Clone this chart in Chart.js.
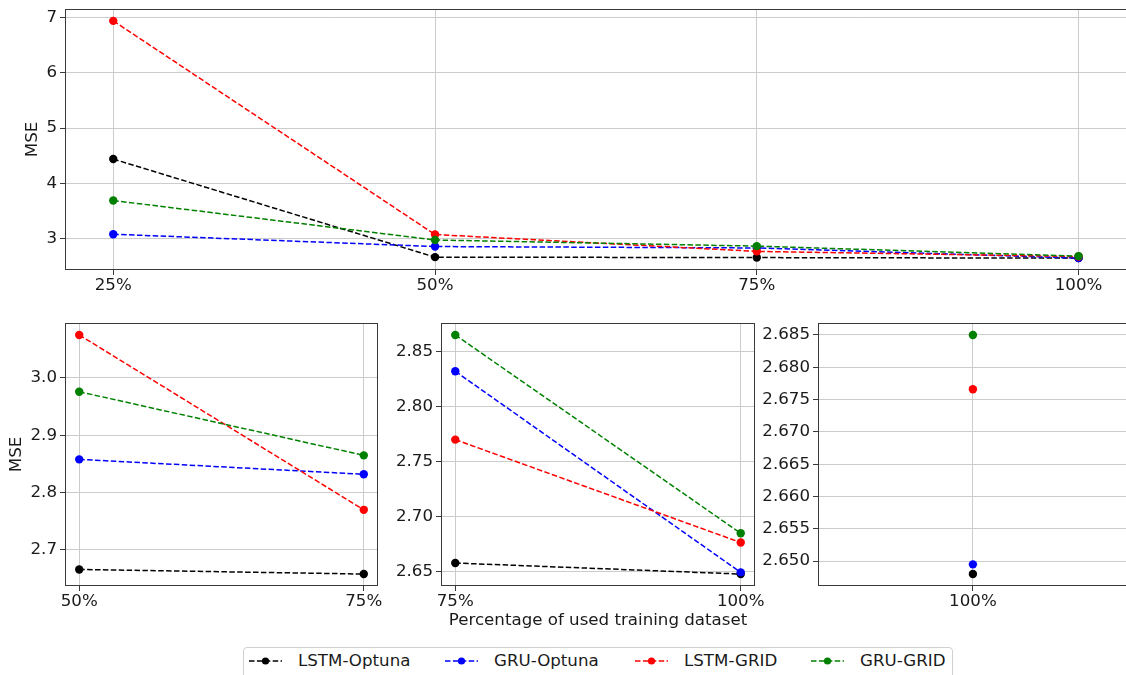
<!DOCTYPE html>
<html><head><meta charset="utf-8">
<script src="https://cdn.jsdelivr.net/npm/chart.js@4.4.0/dist/chart.umd.min.js"></script>
<style>
html,body{margin:0;padding:0;background:#fff;width:1126px;height:675px;overflow:hidden;position:relative;font-family:"DejaVu Sans",sans-serif;}
canvas{position:absolute;}
#legend{position:absolute;left:243px;top:647px;width:710px;height:36px;border:1px solid #d0d0d0;border-radius:4px;background:#fff;box-sizing:border-box;}
.li{position:absolute;top:0;height:26px;line-height:26px;font-size:16.67px;color:#1a1a1a;white-space:nowrap;}
.li svg{position:absolute;top:7px;left:0;}
.li span{position:absolute;left:49px;top:0;}
</style></head><body>
<canvas id="c0"></canvas>
<canvas id="c1"></canvas>
<canvas id="c2"></canvas>
<canvas id="c3"></canvas>
<div id="legend"></div>
<script>
// ---- data ----
const categories = ['25%', '50%', '75%', '100%'];
const seriesNames = ['LSTM-Optuna', 'GRU-Optuna', 'LSTM-GRID', 'GRU-GRID'];
const seriesColors = ['#000000', '#0000ff', '#ff0000', '#008000'];
const lstmOptuna = [4.44, 2.666, 2.658, 2.648];
const gruOptuna  = [3.08, 2.858, 2.832, 2.6495];
const lstmGrid   = [6.94, 3.075, 2.770, 2.6766];
const gruGrid    = [3.69, 2.976, 2.865, 2.685];
const topYTicks   = [3, 4, 5, 6, 7];
const leftYTicks  = [2.7, 2.8, 2.9, 3.0];
const midYTicks   = [2.65, 2.70, 2.75, 2.80, 2.85];
const rightYTicks = [2.650, 2.655, 2.660, 2.665, 2.670, 2.675, 2.680, 2.685];
const yLabel = 'MSE';
const xLabel = 'Percentage of used training dataset';

const allSeries = [lstmOptuna, gruOptuna, lstmGrid, gruGrid];

const FONT = {family: '"DejaVu Sans", sans-serif', size: 16.67};
const TEXT = '#1a1a1a';
const GRID = '#cccccc';

const framePlugin = {
  id: 'frame',
  afterDatasetsDraw(chart) {
    const a = chart.chartArea, ctx = chart.ctx;
    ctx.save();
    ctx.strokeStyle = '#3a3a3a';
    ctx.lineWidth = 1;
    ctx.strokeRect(Math.round(a.left) + 0.5, Math.round(a.top) + 0.5, Math.round(a.right - a.left) - 1, Math.round(a.bottom - a.top) - 1);
    ctx.restore();
  }
};

function makeChart(id, area, W, H, PT, PR, s, e, xmin, xmax, yTicks, decimals, opts) {
  const cv = document.getElementById(id);
  const left = area.l - W, top = area.t - PT;
  const width = W + (area.r - area.l) + PR;
  const height = PT + (area.b - area.t) + H;
  cv.style.left = left + 'px'; cv.style.top = top + 'px';
  cv.width = width; cv.height = height;
  const cats = categories.slice(s, e + 1);
  let lo = Infinity, hi = -Infinity;
  allSeries.forEach(arr => arr.slice(s, e + 1).forEach(v => { lo = Math.min(lo, v); hi = Math.max(hi, v); }));
  const m = (hi - lo) * 0.05;
  const datasets = allSeries.map((arr, i) => ({
    label: seriesNames[i],
    data: arr.slice(s, e + 1).map((v, k) => ({x: k, y: v})),
    borderColor: seriesColors[i],
    backgroundColor: seriesColors[i],
    borderWidth: 1.5,
    borderDash: [5.5, 2.4],
    pointRadius: 4.2,
    pointBorderWidth: 0,
    pointHoverRadius: 4.2,
    tension: 0,
    order: 4 - i,
    clip: false
  }));
  return new Chart(cv, {
    type: 'line',
    data: {datasets},
    plugins: [framePlugin],
    options: {
      responsive: false,
      animation: false,
      devicePixelRatio: 1,
      layout: {padding: {left: 0, top: PT, right: PR, bottom: 0}},
      plugins: {legend: {display: false}, tooltip: {enabled: false}},
      scales: {
        x: {
          type: 'linear', min: xmin, max: xmax,
          afterBuildTicks: sc => { sc.ticks = cats.map((c, k) => ({value: k})); },
          afterFit: sc => { sc.height = H; },
          ticks: {autoSkip: false, maxRotation: 0, padding: 1, color: TEXT, font: FONT,
                  callback: v => cats[v]},
          grid: {color: GRID, lineWidth: 1, tickLength: 5, tickColor: '#3a3a3a', drawTicks: true},
          border: {display: false},
          title: opts.xTitle ? {display: true, text: xLabel, color: TEXT, font: FONT, padding: {top: 0, bottom: 7.8}} : {display: false}
        },
        y: {
          type: 'linear', min: lo - m, max: hi + m,
          afterBuildTicks: sc => { sc.ticks = yTicks.map(v => ({value: v})); },
          afterFit: sc => { sc.width = W; },
          ticks: {autoSkip: false, padding: 3, color: TEXT, font: FONT,
                  callback: v => v.toFixed(decimals)},
          grid: {color: GRID, lineWidth: 1, tickLength: 5, tickColor: '#3a3a3a', drawTicks: true},
          border: {display: false},
          title: opts.yTitle ? {display: true, text: yLabel, color: TEXT, font: FONT, padding: {top: opts.yTitlePad, bottom: 0}} : {display: false}
        }
      }
    }
  });
}

makeChart('c0', {l: 65, t: 9, r: 1130, b: 270}, 65, 30, 16, 1, 0, 3, -0.15, 3.15, topYTicks, 0, {yTitle: true, yTitlePad: 22.8});
makeChart('c1', {l: 65, t: 323, r: 378, b: 586}, 65, 30, 16, 12, 1, 2, -0.05, 1.05, leftYTicks, 1, {yTitle: true, yTitlePad: 6.8});
makeChart('c2', {l: 441, t: 323, r: 755, b: 586}, 60, 52, 16, 12, 2, 3, -0.05, 1.05, midYTicks, 2, {xTitle: true});
makeChart('c3', {l: 818, t: 323, r: 1130, b: 586}, 65, 30, 16, 2, 3, 3, -1, 1, rightYTicks, 3, {});

// ---- legend ----
const legendX = [5, 201, 391, 567];
const lg = document.getElementById('legend');
seriesNames.forEach((n, i) => {
  const d = document.createElement('div');
  d.className = 'li';
  d.style.left = legendX[i] + 'px';
  const c = seriesColors[i];
  d.innerHTML = '<svg width="34" height="12"><line x1="0" y1="6" x2="33" y2="6" stroke="' + c + '" stroke-width="1.5" stroke-dasharray="5.5 2.4"/><circle cx="16.5" cy="6" r="3.6" fill="' + c + '"/></svg><span>' + n + '</span>';
  lg.appendChild(d);
});
</script>
</body></html>
